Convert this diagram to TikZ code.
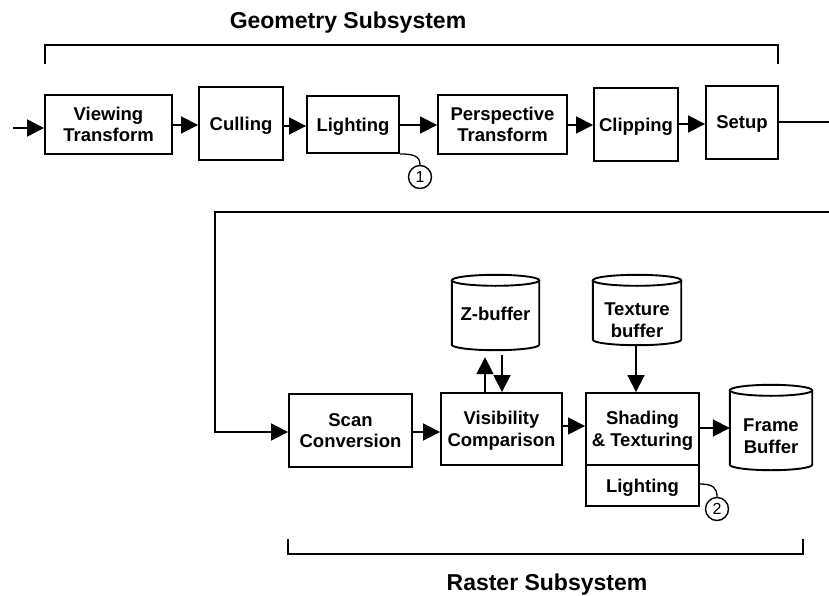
\documentclass[tikz,border=0pt]{standalone}
\usepackage{fontspec}
\setmainfont{Liberation Sans}
\usetikzlibrary{arrows.meta,calc}

% outline of a storage can drawn round a (undrawn) rectangular node
\newlength\canry
\setlength\canry{5.5pt}
\newcommand\drawcan[1]{%
  \draw[canline] let \p1=(#1.north west), \p2=(#1.south east), \n1={(\x2-\x1)/2} in
    (\x1,\y1-\canry) -- (\x1,\y2+\canry)
    arc[start angle=180,end angle=360,x radius=\n1,y radius=\canry]
    -- (\x2,\y1-\canry)
    (\x1+\n1,\y1-\canry) ellipse[x radius=\n1,y radius=\canry];}

\begin{document}
\begin{tikzpicture}[x=1pt,y=-1pt,
  every node/.style={font=\bfseries\fontsize{18.5}{21.5}\selectfont, align=center, inner sep=0pt, text depth=0pt},
  stage/.style={draw, line width=1.9pt, minimum width=#1},
  canbox/.style={minimum width=#1},
  canline/.style={line width=1.9pt},
  head/.style={-{Triangle[length=17pt,width=17pt]}},
  flow/.style={line width=1.8pt, head},
  wire/.style={line width=1.8pt},
  tag/.style={draw, circle, line width=1.4pt, minimum size=23pt, font=\fontsize{16}{16}\selectfont},
  title/.style={font=\bfseries\fontsize{23}{26}\selectfont}]
\useasboundingbox (0,0) rectangle (829,596);

% ---------- geometry subsystem ----------
\node[title] (geomtitle) at (348,20) {Geometry Subsystem};
\draw[wire] (45,64) -- (45,45) -- (778,45) -- (778,64);

\node[stage=127pt, minimum height=59pt] (vt)     at (108.5,124.5) {Viewing\\Transform};
\node[stage=84pt,  minimum height=73pt] (cull)   at (241,123.5)   {Culling};
\node[stage=92pt,  minimum height=57pt] (light1) at (353,124.5)   {Lighting};
\node[stage=129pt, minimum height=59pt] (persp)  at (502.5,124.5) {Perspective\\Transform};
\node[stage=84pt,  minimum height=73pt] (clip)   at (636,124.5)   {Clipping};
\node[stage=72pt,  minimum height=73pt] (setup)  at (742,122.5)   {Setup};

\coordinate (in)   at (13,128);
\coordinate (out)  at (829,122);
\coordinate (back) at (829,212);
\coordinate (turn) at (215,212);

\draw[flow] (in) -- (vt.west |- in);
\draw[flow] (vt.east |- 0,125) -- (cull.west |- 0,125);
\draw[flow] (cull.east |- 0,126) -- (light1.west |- 0,126);
\draw[flow] (light1.east |- 0,125) -- (persp.west |- 0,125);
\draw[flow] (persp.east |- 0,125) -- (clip.west |- 0,125);
\draw[flow] (clip.east |- 0,124) -- (setup.west |- 0,124);
\draw[wire] (setup.east |- out) -- (out);

\node[tag] (t1) at (420,177) {1};
\draw[line width=1.3pt] (light1.south east) .. controls +(13,0) and +(0,-9) .. (t1.north);

% ---------- raster subsystem ----------
\node[stage=123pt, minimum height=73pt] (scan)   at (350.5,430.5) {Scan\\Conversion};
\node[stage=121pt, minimum height=72pt] (vis)    at (501.5,429)   {Visibility\\Comparison};
\node[stage=113pt, minimum height=72pt] (shade)  at (642.5,429)   {Shading\\\& Texturing};
\node[stage=113pt, minimum height=41pt] (light2) at (642.5,485.5) {Lighting};

\node[canbox=87pt, minimum height=75pt] (zbuf)  at (495.5,312.5) {\raisebox{-2pt}{Z-buffer}};
\node[canbox=88pt, minimum height=70pt] (tex)   at (637,310)     {\raisebox{-7pt}{\begin{tabular}{@{}c@{}}Texture\\[0.5pt]buffer\end{tabular}}};
\node[canbox=82pt, minimum height=85pt] (frame) at (771,427.5)   {\raisebox{-3pt}{\begin{tabular}{@{}c@{}}Frame\\[0.5pt]Buffer\end{tabular}}};
\drawcan{zbuf}
\drawcan{tex}
\drawcan{frame}

\draw[wire, head] (back) -- (turn) |- (scan.west |- 0,432);
\draw[flow] (scan.east |- 0,432) -- (vis.west |- 0,432);
\draw[flow] (vis.east |- 0,426) -- (shade.west |- 0,426);
\draw[flow] (shade.east |- 0,428) -- (frame.west |- 0,428);
\draw[flow, shorten >=7pt] (vis.north -| 485,0) -- (zbuf.south -| 485,0);
\draw[flow, shorten <=5pt] (zbuf.south -| 502,0) -- (vis.north -| 502,0);
\draw[flow] (tex.south -| 636,0) -- (shade.north -| 636,0);

\node[tag] (t2) at (717,509) {2};
\draw[line width=1.3pt] (light2.east |- 0,484) .. controls +(13,0) and +(0,-9) .. (t2.north);

\draw[wire] (288,539) -- (288,554) -- (803,554) -- (803,539);
\node[title] (rastertitle) at (547,582) {Raster Subsystem};
\end{tikzpicture}
\end{document}
